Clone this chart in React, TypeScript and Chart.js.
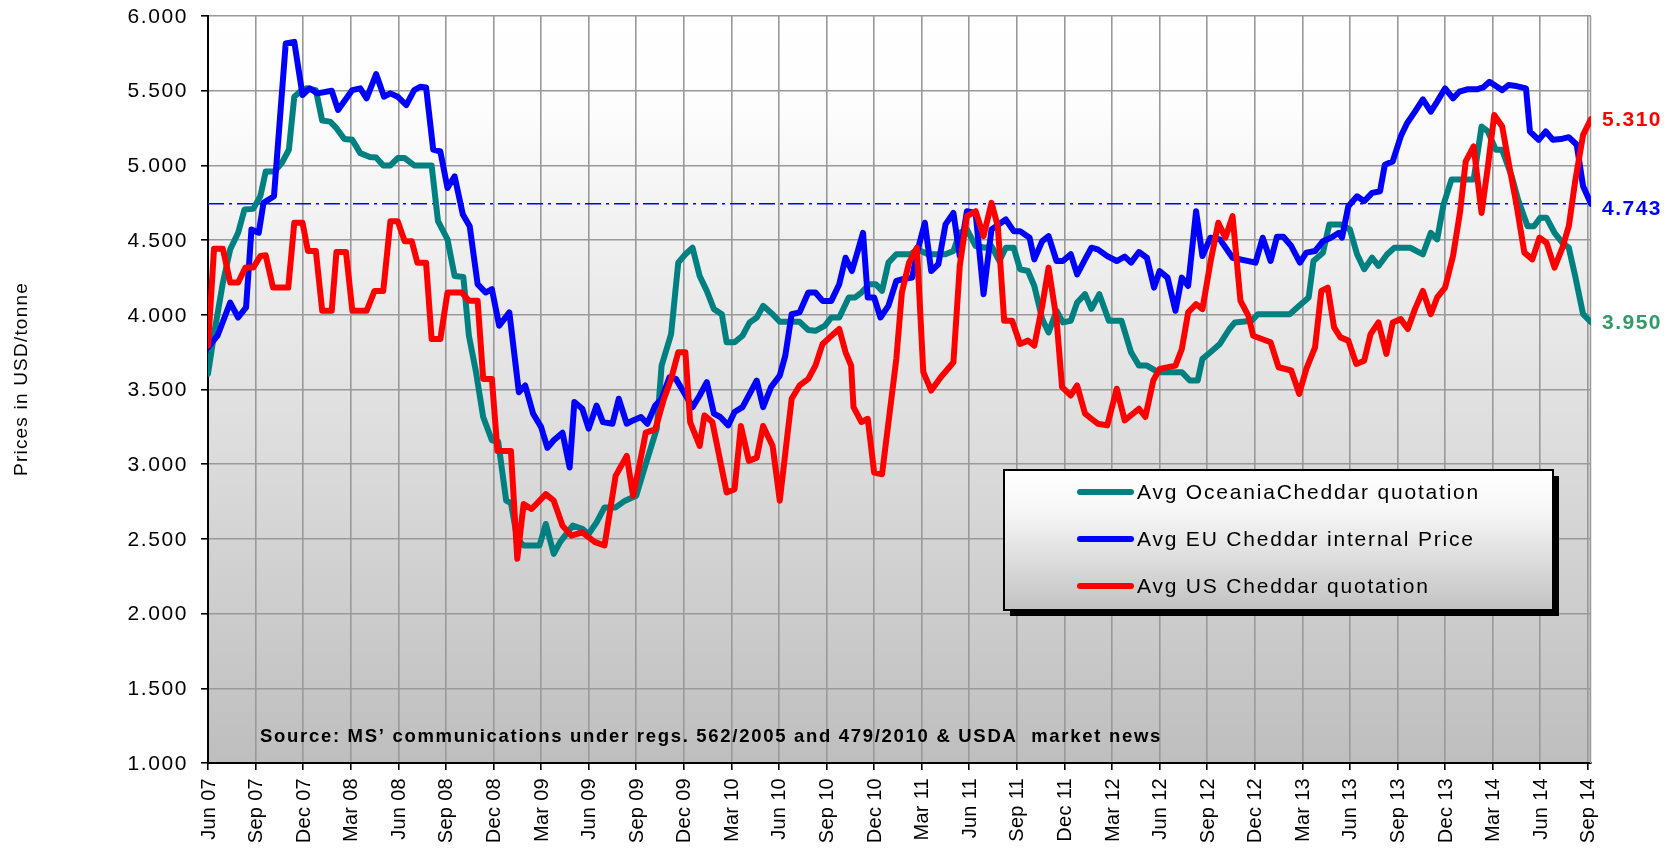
import React, { useEffect, useRef } from 'react';
import { Chart, registerables } from 'chart.js';

Chart.register(...registerables);

// ---- Data (x = months since Jun 2007, y = USD/tonne) ----
const xTickLabels = ['Jun 07','Sep 07','Dec 07','Mar 08','Jun 08','Sep 08','Dec 08','Mar 09','Jun 09','Sep 09','Dec 09','Mar 10','Jun 10','Sep 10','Dec 10','Mar 11','Jun 11','Sep 11','Dec 11','Mar 12','Jun 12','Sep 12','Dec 12','Mar 13','Jun 13','Sep 13','Dec 13','Mar 14','Jun 14','Sep 14'];

const seriesNames = ['Avg OceaniaCheddar quotation', 'Avg EU Cheddar internal Price', 'Avg US Cheddar quotation'];

const oceaniaMonths = [0,0.4,0.94,1.4,1.9,2.3,2.85,3.3,3.64,4.2,4.65,5.1,5.44,5.8,6.2,6.8,7.2,7.7,8.1,8.6,9.1,9.6,10.2,10.6,11.05,11.5,11.96,12.4,13,14.1,14.5,15.1,15.55,16.1,16.45,16.9,17.35,17.9,18.3,18.8,19.1,19.5,19.9,20.9,21.3,21.8,22.2,23,23.6,24,24.5,25,25.7,26.3,27,27.6,28.3,28.6,29.2,29.65,30.1,30.55,31,31.45,31.9,32.4,32.7,33.2,33.7,34.15,34.6,35,35.6,36.05,37.3,37.85,38.3,38.9,39.3,39.8,40.1,40.4,40.8,41.2,41.7,42.1,42.5,42.9,43.4,44.3,44.7,45.4,46.5,47,47.4,47.85,48.4,49,49.4,49.9,50.3,50.8,51.2,51.7,52.1,52.6,53,53.5,53.9,54.4,54.8,55.3,55.7,56.2,56.8,57.6,58.2,58.7,59.2,59.9,61.4,61.9,62.4,62.7,63.2,63.8,64.4,64.75,65.8,66.2,68.2,68.8,69.4,69.7,70.3,70.7,71.4,72,72.45,72.9,73.4,73.8,74.35,74.8,75.8,76.6,77.1,77.5,77.9,78.4,79.8,80.3,80.7,81.2,81.6,82.2,82.6,83.2,83.6,84,84.4,84.9,85.4,85.8,86.2,86.7,87.2];
const oceaniaPrices = [3605,3882,4216,4438,4549,4705,4709,4793,4960,4960,5016,5105,5460,5493,5516,5504,5300,5293,5249,5176,5171,5082,5056,5053,5000,5000,5049,5049,5000,5000,4627,4505,4260,4253,3860,3616,3316,3160,3150,2756,2740,2500,2456,2456,2600,2400,2478,2589,2567,2533,2611,2711,2711,2756,2789,3000,3240,3660,3871,4349,4405,4449,4260,4160,4038,4004,3816,3816,3860,3949,3982,4060,4004,3953,3953,3898,3893,3927,3982,3982,4049,4116,4116,4149,4205,4205,4160,4349,4405,4405,4438,4405,4405,4427,4549,4571,4460,4449,4460,4360,4449,4449,4305,4293,4193,3971,3882,4027,3949,3960,4082,4138,4040,4138,3960,3960,3749,3660,3660,3616,3616,3560,3560,3705,3749,3805,3905,3949,3960,4004,4004,4060,4116,4360,4416,4605,4605,4571,4405,4305,4382,4327,4405,4449,4449,4405,4549,4505,4738,4905,4905,5260,5227,5104,5104,4927,4771,4593,4593,4649,4649,4549,4482,4449,4260,4004,3950];

const euMonths = [0,0.6,1.4,1.9,2.4,2.74,3.2,3.5,4.16,4.9,5.44,5.96,6.4,6.9,7.8,8.2,9.1,9.6,10,10.6,11.1,11.5,11.96,12.5,13,13.4,13.75,14.2,14.65,15.1,15.55,16.07,16.5,17,17.5,17.9,18.36,19,19.6,20,20.5,21,21.4,21.8,22.35,22.8,23.1,23.6,24,24.5,24.9,25.5,25.9,26.4,26.8,27.3,27.7,28.2,28.6,29.1,29.5,30,30.55,31,31.45,31.9,32.3,32.8,33.2,33.7,34.15,34.6,35,35.5,36.05,36.4,36.8,37.3,37.85,38.3,38.75,39.3,39.8,40.2,40.6,41,41.3,41.6,42,42.4,42.9,43.4,43.8,44.4,44.7,45.2,45.6,46.05,46.5,47,47.4,47.85,48.4,48.9,49.4,50.3,50.8,51.2,51.8,52.1,52.6,53,53.5,53.9,54.4,54.8,55.3,55.7,56.1,56.7,57.3,57.8,58.2,58.7,59.2,59.65,60,60.5,61,61.4,61.8,62.3,62.7,63.2,63.8,64.6,66.05,66.5,67,67.4,67.8,68.3,68.85,69.25,69.8,70.3,70.8,71.3,71.5,71.9,72.45,72.9,73.4,73.9,74.2,74.7,75.2,75.6,76.1,76.6,77.1,77.5,78,78.5,78.9,79.4,80,80.4,80.8,81.2,81.6,82,82.5,83.1,83.35,83.9,84.35,84.8,85.3,85.8,86.3,86.7,87.2];
const euPrices = [3782,3860,4082,3982,4049,4571,4549,4749,4793,5816,5827,5471,5516,5482,5500,5371,5504,5516,5449,5611,5460,5482,5460,5404,5504,5527,5522,5105,5093,4849,4927,4671,4593,4205,4149,4171,3927,4016,3482,3527,3338,3250,3110,3160,3211,2978,3416,3371,3238,3393,3282,3271,3438,3271,3293,3316,3271,3393,3438,3582,3571,3482,3382,3460,3549,3338,3316,3260,3349,3382,3471,3560,3382,3516,3593,3727,4004,4016,4149,4149,4093,4093,4205,4382,4293,4438,4549,4116,4116,3982,4060,4227,4238,4249,4416,4616,4293,4338,4605,4682,4393,4693,4682,4138,4571,4638,4560,4560,4516,4371,4493,4527,4360,4360,4405,4271,4371,4449,4438,4393,4360,4389,4349,4420,4382,4182,4293,4249,4027,4249,4193,4693,4393,4516,4505,4382,4349,4516,4360,4522,4522,4460,4349,4416,4427,4493,4516,4549,4516,4727,4793,4760,4816,4827,5005,5027,5193,5282,5360,5442,5360,5427,5516,5449,5493,5509,5509,5522,5560,5531,5504,5538,5531,5516,5227,5171,5227,5171,5176,5189,5138,4860,4743];

const usMonths = [0,0.38,0.94,1.4,1.9,2.36,2.85,3.3,3.64,4.1,5.06,5.44,5.96,6.3,6.8,7.2,7.8,8.1,8.7,9.1,10,10.5,11.05,11.5,11.96,12.4,12.85,13.2,13.75,14.1,14.65,15.1,16,16.45,17,17.35,17.9,18.25,19.1,19.5,19.9,20.4,21.3,21.8,22.35,22.9,23.6,24.4,25,25.7,26.4,26.8,27.4,27.6,28.2,28.75,29.2,29.65,30.1,30.4,31,31.3,31.8,32.7,33.2,33.6,34.1,34.6,35,35.6,36.05,36.8,37.3,37.85,38.3,38.75,39.2,39.8,40.2,40.55,40.7,41.2,41.6,42,42.5,43.4,43.75,44.2,44.7,45.1,45.6,46.2,47,47.4,47.85,48.4,48.9,49.4,49.8,50.2,50.7,51.2,51.7,52.1,52.6,53,53.5,53.85,54.4,54.8,55.3,55.7,56.1,56.7,57.3,57.8,58.7,59.1,59.6,60,61,61.4,61.8,62.3,62.7,63.2,63.7,64.15,64.6,65.1,65.6,65.9,67,67.5,68.3,68.8,69.25,69.8,70.2,70.6,71,71.4,71.9,72.4,72.9,73.3,73.8,74.3,74.7,75.2,75.65,76.1,76.6,77.1,77.5,78,78.5,78.95,79.3,79.8,80.3,80.7,81.1,81.6,82.05,82.5,83,83.5,83.95,84.4,84.9,85.4,85.8,86.2,86.7,87.2];
const usPrices = [3794,4442,4442,4216,4216,4316,4316,4393,4398,4182,4182,4616,4616,4427,4427,4027,4027,4420,4420,4027,4027,4160,4160,4627,4627,4493,4493,4349,4349,3838,3838,4149,4149,4094,4094,3571,3571,3089,3089,2367,2733,2700,2800,2756,2589,2522,2544,2478,2456,2922,3056,2789,3100,3211,3233,3438,3571,3749,3749,3282,3122,3327,3282,2811,2833,3256,3022,3044,3256,3122,2756,3438,3527,3571,3660,3805,3849,3905,3749,3660,3382,3282,3304,2944,2933,3705,4149,4349,4449,3616,3493,3582,3682,4327,4660,4693,4527,4749,4593,3960,3960,3805,3827,3793,4060,4316,3971,3516,3460,3527,3338,3304,3271,3260,3505,3293,3371,3316,3560,3638,3660,3771,4016,4071,4038,4349,4616,4516,4660,4093,3993,3860,3816,3649,3627,3471,3638,3782,4160,4182,3916,3849,3827,3671,3693,3871,3949,3738,3949,3971,3905,4038,4160,4004,4116,4182,4393,4693,5027,5127,4682,4993,5338,5260,4993,4738,4416,4371,4516,4482,4316,4449,4593,4893,5204,5310];

const sourceNote = 'Source: MS\u2019 communications under regs. 562/2005 and 479/2010 & USDA  market news';
const yTitle = 'Prices in USD/tonne';

const FONT = '"Liberation Sans", Arial, Helvetica, sans-serif';
const TEAL = '#008080';
const BLUE = '#0000ff';
const RED = '#ff0000';

const toPoints = (xs: number[], ys: number[]) => xs.map((x, i) => ({ x, y: ys[i] }));
const fmt = (v: number) => (v / 1000).toFixed(3);

function setSpacing(ctx: any, px: number) {
  try { ctx.letterSpacing = px + 'px'; } catch (e) { /* ignore */ }
}

const decorPlugin = {
  id: 'decor',
  beforeDraw(chart: any) {
    const { ctx, chartArea: a } = chart;
    ctx.save();
    const g = ctx.createLinearGradient(0, a.top, 0, a.bottom);
    g.addColorStop(0, '#ffffff');
    g.addColorStop(0.12, '#fdfdfd');
    g.addColorStop(1, '#bebebe');
    ctx.fillStyle = g;
    ctx.fillRect(a.left, a.top, a.right - a.left, a.bottom - a.top);
    ctx.restore();
  },
  beforeDatasetsDraw(chart: any) {
    const { ctx, chartArea: a } = chart;
    ctx.save();
    ctx.strokeStyle = '#9a9a9a';
    ctx.lineWidth = 1.5;
    ctx.beginPath();
    ctx.moveTo(a.right - 0.5, a.top);
    ctx.lineTo(a.right - 0.5, a.bottom);
    ctx.stroke();
    ctx.restore();
  },
  afterDraw(chart: any) {
    const { ctx, chartArea: a } = chart;
    const xs = chart.scales.x;
    const ys = chart.scales.y;
    ctx.save();

    // y tick labels
    ctx.fillStyle = '#000';
    ctx.font = `21px ${FONT}`;
    setSpacing(ctx, 1.6);
    ctx.textAlign = 'right';
    ctx.textBaseline = 'middle';
    ys.ticks.forEach((t: any) => {
      ctx.fillText(fmt(t.value), 188, ys.getPixelForValue(t.value) + 1);
    });

    // x tick labels (rotated)
    ctx.font = `20px ${FONT}`;
    setSpacing(ctx, 0.3);
    xs.ticks.forEach((t: any, i: number) => {
      const px = xs.getPixelForValue(t.value);
      ctx.save();
      ctx.translate(px + 1, a.bottom + 15);
      ctx.rotate(-Math.PI / 2);
      ctx.textAlign = 'right';
      ctx.textBaseline = 'middle';
      ctx.fillText(xTickLabels[i] ?? '', 0, 0);
      ctx.restore();
    });

    // y axis title
    ctx.save();
    ctx.font = `19px ${FONT}`;
    setSpacing(ctx, 1.2);
    ctx.translate(22, 379);
    ctx.rotate(-Math.PI / 2);
    ctx.textAlign = 'center';
    ctx.textBaseline = 'middle';
    ctx.fillText(yTitle, 0, 0);
    ctx.restore();

    // end value labels
    ctx.font = `bold 21px ${FONT}`;
    setSpacing(ctx, 1.5);
    ctx.textAlign = 'left';
    ctx.textBaseline = 'middle';
    const ends: [number, string, number][] = [
      [usPrices[usPrices.length - 1], RED, 1],
      [euPrices[euPrices.length - 1], BLUE, 5],
      [oceaniaPrices[oceaniaPrices.length - 1], '#339966', 1],
    ];
    ends.forEach(([v, c, dy]) => {
      ctx.fillStyle = c;
      ctx.fillText(fmt(v), 1602, ys.getPixelForValue(v) + dy);
    });

    // source note
    ctx.fillStyle = '#000';
    ctx.font = `bold 18.5px ${FONT}`;
    setSpacing(ctx, 1.7);
    ctx.textAlign = 'left';
    ctx.textBaseline = 'alphabetic';
    ctx.fillText(sourceNote, 260, 742);

    // legend box
    const L = 1004, T = 470, W = 549, H = 140;
    setSpacing(ctx, 0);
    ctx.fillStyle = '#000';
    ctx.fillRect(L + 6, T + 6, W, H);
    const lg = ctx.createLinearGradient(0, T, 0, T + H);
    lg.addColorStop(0, '#ffffff');
    lg.addColorStop(0.3, '#f6f6f6');
    lg.addColorStop(1, '#c2c2c2');
    ctx.fillStyle = lg;
    ctx.fillRect(L, T, W, H);
    ctx.strokeStyle = '#000';
    ctx.lineWidth = 2;
    ctx.strokeRect(L, T, W, H);
    const rows = [492, 539, 586];
    const cols = [TEAL, BLUE, RED];
    ctx.font = `21px ${FONT}`;
    setSpacing(ctx, 1.8);
    ctx.textAlign = 'left';
    ctx.textBaseline = 'middle';
    rows.forEach((ry, i) => {
      ctx.strokeStyle = cols[i];
      ctx.lineWidth = 6;
      ctx.lineCap = 'round';
      ctx.beginPath();
      ctx.moveTo(1080, ry);
      ctx.lineTo(1131, ry);
      ctx.stroke();
      ctx.fillStyle = '#000';
      ctx.fillText(seriesNames[i], 1137, ry + 1);
    });

    setSpacing(ctx, 0);
    ctx.restore();
  },
};

export default function App() {
  const ref = useRef<HTMLCanvasElement | null>(null);
  useEffect(() => {
    if (!ref.current) return;
    const euLast = euPrices[euPrices.length - 1];
    const xMax = euMonths[euMonths.length - 1];
    const lineBase = { borderWidth: 6, pointRadius: 0, tension: 0, borderJoinStyle: 'round', borderCapStyle: 'round' };
    const chart = new Chart(ref.current, {
      type: 'line',
      data: {
        datasets: [
          { ...lineBase, label: seriesNames[2], data: toPoints(usMonths, usPrices), borderColor: RED, order: 0 },
          { ...lineBase, label: seriesNames[1], data: toPoints(euMonths, euPrices), borderColor: BLUE, order: 1 },
          { ...lineBase, label: seriesNames[0], data: toPoints(oceaniaMonths, oceaniaPrices), borderColor: TEAL, order: 2 },
          {
            label: 'latest EU',
            data: [{ x: 0, y: euLast }, { x: xMax, y: euLast }],
            borderColor: BLUE,
            borderWidth: 1.5,
            borderDash: [16, 5, 3, 5],
            pointRadius: 0,
            order: 3,
          },
        ],
      },
      options: {
        responsive: false,
        animation: false,
        devicePixelRatio: 1,
        layout: { padding: { left: 0, top: 16, right: 88, bottom: 0 } },
        plugins: { legend: { display: false }, tooltip: { enabled: false } },
        scales: {
          x: {
            type: 'linear',
            min: 0,
            max: xMax,
            afterBuildTicks: (s: any) => {
              s.ticks = xTickLabels.map((_, i) => ({ value: i * 3 }));
            },
            afterFit: (s: any) => { s.height = 85; },
            ticks: { display: false },
            grid: { color: '#999999', lineWidth: 1.6, tickColor: '#000', tickLength: 7, drawTicks: true },
            border: { display: true, color: '#000', width: 2 },
          },
          y: {
            type: 'linear',
            min: 1000,
            max: 6000,
            ticks: { display: false, stepSize: 500 },
            afterFit: (s: any) => { s.width = 208; },
            grid: { color: '#999999', lineWidth: 1.6, tickColor: '#000', tickLength: 7, drawTicks: true },
            border: { display: true, color: '#000', width: 2 },
          },
        },
      },
      plugins: [decorPlugin],
    } as any);
    return () => chart.destroy();
  }, []);

  return (
    <div style={{ position: 'fixed', left: 0, top: 0, width: 1679, height: 848, background: '#fff' }}>
      <canvas ref={ref} width={1679} height={848} style={{ display: 'block' }} />
    </div>
  );
}
